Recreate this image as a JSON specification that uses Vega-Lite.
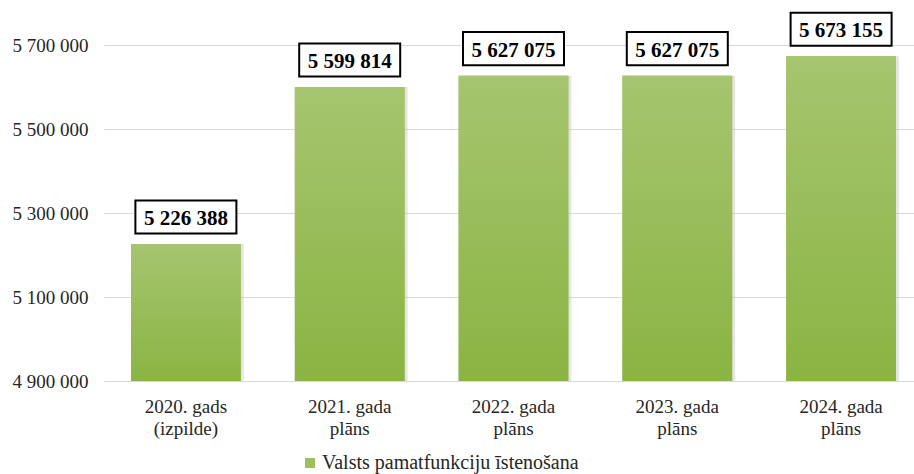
{
  "$schema": "https://vega.github.io/schema/vega-lite/v6.json",
  "width": 819,
  "height": 378,
  "autosize": "none",
  "padding": {"left": 104, "top": 3, "right": 0, "bottom": 93},
  "background": "white",
  "config": {
    "font": "Liberation Serif, serif",
    "view": {"stroke": null},
    "legend": {
      "labelFont": "Liberation Serif, serif",
      "labelFontSize": 20,
      "labelColor": "#262626",
      "labelLimit": 0
    }
  },
  "data": {
    "values": [
      {"period": "2020. gads|(izpilde)", "value": 5226388, "series": "Valsts pamatfunkciju īstenošana"},
      {"period": "2021. gada|plāns", "value": 5599814, "series": "Valsts pamatfunkciju īstenošana"},
      {"period": "2022. gada|plāns", "value": 5627075, "series": "Valsts pamatfunkciju īstenošana"},
      {"period": "2023. gada|plāns", "value": 5627075, "series": "Valsts pamatfunkciju īstenošana"},
      {"period": "2024. gada|plāns", "value": 5673155, "series": "Valsts pamatfunkciju īstenošana"}
    ]
  },
  "transform": [
    {"calculate": "replace(format(datum.value, ','), /,/g, ' ')", "as": "label"}
  ],
  "encoding": {
    "x": {
      "field": "period",
      "type": "nominal",
      "sort": null,
      "title": null,
      "scale": {"paddingInner": 0.33, "paddingOuter": 0.165},
      "axis": {
        "labelExpr": "split(datum.label, '|')",
        "labelAngle": 0,
        "labelFont": "Liberation Serif, serif",
        "labelFontSize": 19,
        "labelLineHeight": 22,
        "labelColor": "#262626",
        "labelPadding": 16,
        "labelBaseline": "top",
        "ticks": false,
        "domain": false,
        "grid": false
      }
    },
    "y": {
      "field": "value",
      "type": "quantitative",
      "title": null,
      "scale": {"domain": [4900000, 5800000], "zero": false, "nice": false},
      "axis": {
        "values": [4900000, 5100000, 5300000, 5500000, 5700000],
        "labelExpr": "replace(format(datum.value, ','), /,/g, ' ')",
        "labelFont": "Liberation Serif, serif",
        "labelFontSize": 19,
        "labelColor": "#262626",
        "labelPadding": 16,
        "ticks": false,
        "domain": false,
        "grid": true,
        "gridColor": "#d9d9d9",
        "gridWidth": 1
      }
    }
  },
  "layer": [
    {
      "mark": {"type": "bar", "xOffset": 3, "color": "#b5b5b5", "opacity": 0.35},
      "encoding": {"y2": {"datum": 4900000}}
    },
    {
      "mark": {"type": "bar"},
      "encoding": {
        "y2": {"datum": 4900000},
        "color": {
          "field": "series",
          "type": "nominal",
          "scale": {"range": ["#9dbf5e"]},
          "legend": {
            "title": null,
            "orient": "none",
            "legendX": 196,
            "legendY": 450,
            "padding": 0,
            "symbolType": "square",
            "symbolSize": 100,
            "symbolStrokeWidth": 0,
            "labelFont": "Liberation Serif, serif",
            "labelFontSize": 20,
            "labelLimit": 0,
            "labelColor": "#262626",
            "labelOffset": 2
          }
        }
      }
    },
    {
      "mark": {
        "type": "bar",
        "color": {
          "gradient": "linear",
          "x1": 0, "y1": 0, "x2": 0, "y2": 1,
          "stops": [
            {"offset": 0, "color": "#a6c56f"},
            {"offset": 1, "color": "#8ab443"}
          ]
        }
      },
      "encoding": {"y2": {"datum": 4900000}}
    },
    {
      "mark": {
        "type": "point",
        "shape": "M-1,-0.327H1V0.327H-1Z",
        "size": 10201,
        "filled": true,
        "fill": "white",
        "stroke": "black",
        "strokeWidth": 2,
        "opacity": 1,
        "yOffset": -27
      }
    },
    {
      "mark": {
        "type": "text",
        "font": "Liberation Serif, serif",
        "fontSize": 21,
        "fontWeight": "bold",
        "color": "black",
        "baseline": "alphabetic",
        "align": "center",
        "dy": -19
      },
      "encoding": {"text": {"field": "label"}}
    }
  ]
}
